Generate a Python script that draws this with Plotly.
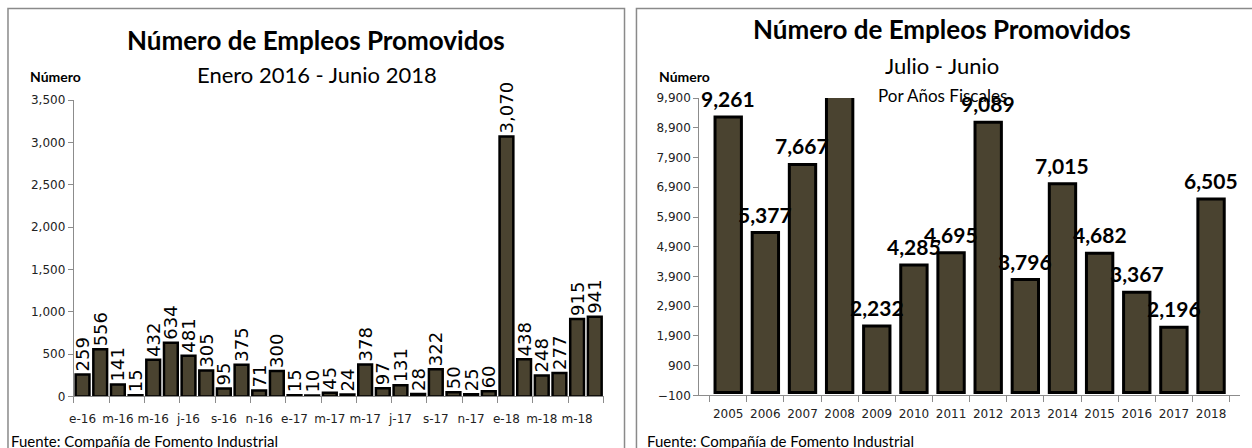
import plotly.graph_objects as go

# ---------------- data ----------------
months = ["e-16", "f-16", "m-16", "a-16", "m-16", "j-16", "j-16", "a-16", "s-16", "o-16", "n-16", "d-16",
          "e-17", "f-17", "m-17", "a-17", "m-17", "j-17", "j-17", "a-17", "s-17", "o-17", "n-17", "d-17",
          "e-18", "f-18", "m-18", "a-18", "m-18", "j-18"]
monthly_values = [259, 556, 141, 15, 432, 634, 481, 305, 95, 375, 71, 300,
                  15, 10, 45, 24, 378, 97, 131, 28, 322, 50, 25, 60,
                  3070, 438, 248, 277, 915, 941]

years = ["2005", "2006", "2007", "2008", "2009", "2010", "2011", "2012", "2013",
         "2014", "2015", "2016", "2017", "2018"]
yearly_values = [9261, 5377, 7667, 10600, 2232, 4285, 4695, 9089, 3796,
                 7015, 4682, 3367, 2196, 6505]
yearly_label_shown = [True, True, True, False, True, True, True, True, True,
                      True, True, True, True, True]

W, H = 1252, 448
BAR = "#4a4330"
AXIS = "#8c8c8c"


def px_x(x):
    return x / W


def px_y(y):
    return (H - y) / H


fig = go.Figure()

# ---------------- left chart ----------------
idx = list(range(len(months)))
fig.add_trace(go.Bar(
    x=idx, y=monthly_values,
    marker=dict(color=BAR, line=dict(color="black", width=2.5)),
    text=[f"{v:,}" for v in monthly_values],
    textposition="outside", textangle=-90, constraintext="none",
    textfont=dict(family="DejaVu Sans", size=18, color="black"),
    cliponaxis=False, width=0.78,
    xaxis="x", yaxis="y", showlegend=False, hoverinfo="skip",
))

# ---------------- right chart ----------------
fig.add_trace(go.Bar(
    x=years, y=yearly_values,
    marker=dict(color=BAR, line=dict(color="black", width=3)),
    width=0.71, cliponaxis=True,
    xaxis="x2", yaxis="y2", showlegend=False, hoverinfo="skip",
))
# value labels (category axis -> annotation x is the category's serial index)
for i, (v, show) in enumerate(zip(yearly_values, yearly_label_shown)):
    if show:
        fig.add_annotation(
            x=i, y=v, xref="x2", yref="y2", text=f"{v:,}",
            showarrow=False, yanchor="bottom", xanchor="center", yshift=4,
            font=dict(family="Lato", size=21, color="black", weight="bold"),
        )

tickfont = dict(family="DejaVu Sans", size=12, color="#222222")

fig.update_layout(
    width=W, height=H,
    margin=dict(l=0, r=0, t=0, b=0),
    paper_bgcolor="white", plot_bgcolor="white",
    xaxis=dict(
        domain=[px_x(69), px_x(601)], range=[-0.5, len(months) - 0.5],
        tickmode="array", tickvals=idx[::2], ticktext=months[::2],
        tickangle=0, ticks="", tickfont=tickfont, ticklabelstandoff=11,
        showline=True, linecolor=AXIS, linewidth=1, showgrid=False, zeroline=False,
        minor=dict(tick0=-0.5, dtick=2, ticks="outside", ticklen=6, tickcolor=AXIS, showgrid=False),
        anchor="y",
    ),
    yaxis=dict(
        domain=[px_y(402), px_y(96)], range=[0, 3500], dtick=500, tickformat=",",
        ticks="outside", ticklen=5, tickcolor=AXIS, tickfont=tickfont,
        showline=True, linecolor=AXIS, linewidth=1, showgrid=False, zeroline=False,
        anchor="x",
    ),
    xaxis2=dict(
        domain=[px_x(697), px_x(1240)], type="category",
        tickson="boundaries", ticks="outside", ticklen=6, tickcolor=AXIS,
        tickangle=0, tickfont=tickfont, ticklabelstandoff=7,
        showline=True, linecolor=AXIS, linewidth=1, showgrid=False, zeroline=False,
        anchor="y2",
    ),
    yaxis2=dict(
        domain=[px_y(401), px_y(94)], range=[-100, 9900], tick0=-100, dtick=1000,
        tickformat=",", ticks="outside", ticklen=5, tickcolor=AXIS, tickfont=tickfont,
        showline=True, linecolor=AXIS, linewidth=1, showgrid=False, zeroline=False,
        anchor="x2",
    ),
)

# panel borders
fig.add_shape(type="rect", xref="paper", yref="paper",
              x0=px_x(3), x1=px_x(622), y0=px_y(470), y1=px_y(1.5),
              line=dict(color="#8a8a8a", width=1.5), layer="below")
fig.add_shape(type="rect", xref="paper", yref="paper",
              x0=px_x(634), x1=px_x(1270), y0=px_y(470), y1=px_y(1.5),
              line=dict(color="#8a8a8a", width=1.5), layer="below")


def note(text, x, y, size, bold=False, xanchor="center", family="Lato"):
    fig.add_annotation(
        text=text, xref="paper", yref="paper", x=px_x(x), y=px_y(y),
        xanchor=xanchor, yanchor="middle", showarrow=False,
        font=dict(family=family, size=size, color="black", weight="bold" if bold else "normal"),
    )


note("Número de Empleos Promovidos", 312, 34, 26, bold=True)
note("Enero 2016 - Junio 2018", 313, 70, 22)
note("Número", 23, 72, 14, bold=True, xanchor="left")
note("Fuente: Compañía de Fomento Industrial", 4, 448, 15, xanchor="left")

note("Número de Empleos Promovidos", 941, 23, 26, bold=True)
note("Julio - Junio", 941, 60, 22)
note("Por Años Fiscales", 941, 91, 17)
note("Número", 655, 72, 14, bold=True, xanchor="left")
note("Fuente: Compañía de Fomento Industrial", 643, 448, 15, xanchor="left")

fig.write_html(
    "out.html",
    config={"displayModeBar": False},
    post_script=(
        "document.documentElement.style.margin='0';"
        "document.documentElement.style.padding='0';"
        "document.documentElement.style.overflow='hidden';"
        "document.body.style.margin='0';"
        "document.body.style.padding='0';"
        "document.body.style.overflow='hidden';"
    ),
)
